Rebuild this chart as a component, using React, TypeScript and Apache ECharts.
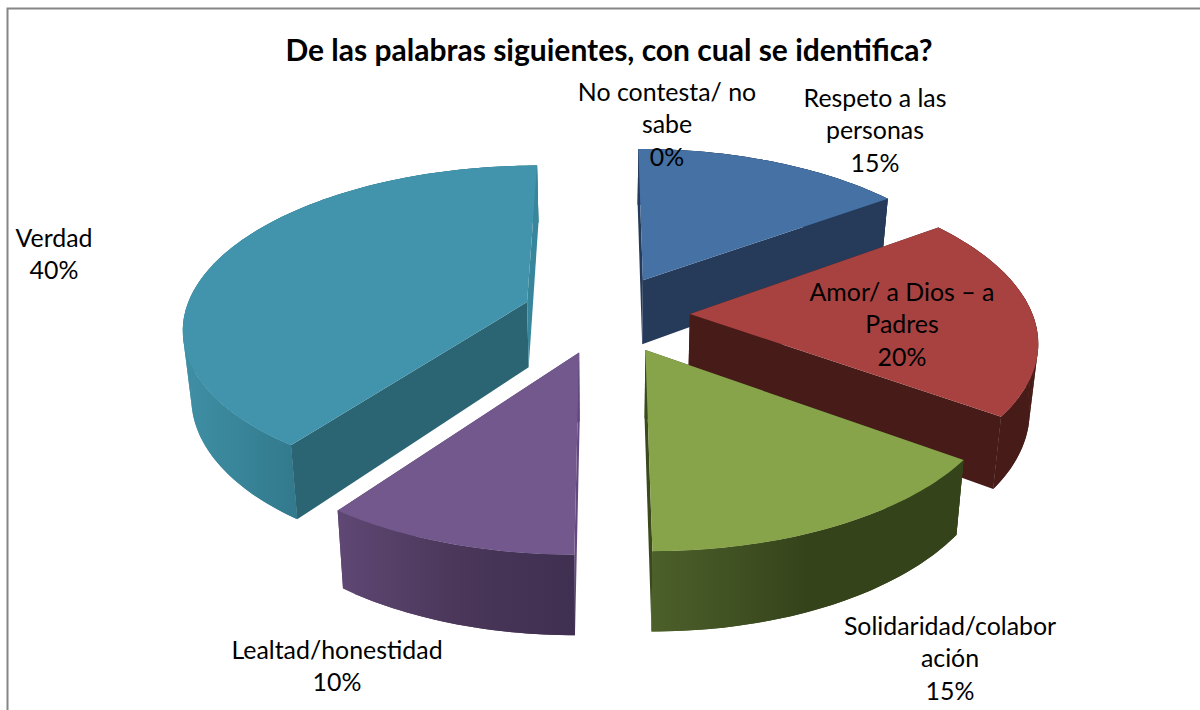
import React, { useEffect, useRef } from "react";
import * as echarts from "echarts";

const TITLE = "De las palabras siguientes, con cual se identifica?";
const names = [
  "Respeto a las\npersonas",
  "Amor/ a Dios – a\nPadres",
  "Solidaridad/colabor\nación",
  "Lealtad/honestidad",
  "Verdad",
  "No contesta/ no\nsabe",
];
const values = [15, 20, 15, 10, 40, 0];

const topColors = ["#4571a5", "#a84241", "#87a44b", "#72588d", "#4194ac", "#4571a5"];
const faceEndColors = ["#253b59", "#471b18", "#3a4a1c", "#4f3b66", "#38869b", "#253b59"];
const faceStartColors = ["#253b59", "#471b18", "#3a4a1c", "#63497f", "#2b6574", "#253b59"];
const wallColors = [
  ["#253b59", "#253b59", "#253b59"],
  ["#471b18", "#471b18", "#471b18"],
  ["#4c602a", "#35431b", "#35431b"],
  ["#5f4874", "#4a3759", "#3f2f50"],
  ["#3f8fa4", "#398599", "#337a8e"],
  ["#253b59", "#253b59", "#253b59"],
];
const labelCenters = [
  [875, 129],
  [902, 323],
  [950, 657],
  [337, 665],
  [54, 253],
  [667, 123],
];

const CX = 606;
const VY = -773;
const D = 1087;
const A = 342.5;
const Q = 0.147;
const EXPLODE = 0.245;
const DEPTH = 66;
const SHRINK = 0.98;
const FONT = "Lato";

const project = (X: number, Y: number) => {
  const s = 1 / (1 + Q * Y);
  return { x: CX + A * X * s, y: VY + D * s, s };
};
const lower = (p: { x: number; y: number; s: number }) => ({
  x: CX + (p.x - CX) * SHRINK,
  y: p.y + DEPTH * p.s,
  s: p.s,
});
const xy = (p: { x: number; y: number }) => [p.x, p.y];
const turn = (o: any, a: any, b: any) => (a.x - o.x) * (b.y - o.y) - (a.y - o.y) * (b.x - o.x);

const total = values.reduce((a, b) => a + b, 0);
let running = 0;
const rows = values.map((v, i) => {
  const start = (running / total) * Math.PI * 2;
  running += v;
  const end = (running / total) * Math.PI * 2;
  return [i, start, end, -Math.cos((start + end) / 2)];
});
const drawOrder = rows.slice().sort((a, b) => a[3] - b[3]);

const renderSlice = (_p: any, api: any) => {
  const i = api.value(0);
  const start = api.value(1);
  const end = api.value(2);
  if (end - start <= 0) return null;
  const mid = (start + end) / 2;
  const ox = EXPLODE * Math.sin(mid);
  const oy = EXPLODE * Math.cos(mid);
  const apex = project(ox, oy);
  const rim: any[] = [];
  const front: number[] = [];
  const steps = Math.ceil((end - start) / 0.02);
  for (let k = 0; k <= steps; k++) {
    const t = start + ((end - start) * k) / steps;
    const p = project(ox + Math.sin(t), oy + Math.cos(t));
    rim.push(p);
    if (Math.cos(t) <= 0.001) front.push(p.x);
  }
  const rimLow = rim.map(lower);
  const apexLow = lower(apex);
  const x0 = front.length ? Math.min(...front) : rim[0].x;
  const x1 = front.length ? Math.max(...front) : rim[rim.length - 1].x;
  const stops = wallColors[i];
  const wallFill = {
    type: "linear",
    x: x0,
    y: 0,
    x2: x1,
    y2: 0,
    global: true,
    colorStops: stops.map((color, n) => ({ offset: n / (stops.length - 1), color })),
  };
  const poly = (points: number[][], fill: any) => ({
    type: "polygon",
    shape: { points },
    style: { fill, stroke: null },
  });
  const first = rim[0];
  const last = rim[rim.length - 1];
  const lowLast = rimLow[rimLow.length - 1];
  const quads: any[] = [];
  for (let k = 0; k + 3 <= steps; k += 3) {
    quads.push(poly([xy(rim[k]), xy(rim[k + 3]), xy(rimLow[k + 3]), xy(rimLow[k])], wallFill));
  }
  const startFace = poly([xy(apex), xy(first), xy(rimLow[0]), xy(apexLow)], faceStartColors[i]);
  const endFace = poly([xy(apex), xy(last), xy(lowLast), xy(apexLow)], faceEndColors[i]);
  const startShown = turn(apex, first, rimLow[0]) < 0;
  const endShown = turn(apex, last, lowLast) > 0;
  return {
    type: "group",
    children: [
      ...(startShown ? [] : [startFace]),
      ...(endShown ? [] : [endFace]),
      poly([...rim.map(xy), ...rimLow.slice().reverse().map(xy)], wallFill),
      ...quads,
      ...(startShown ? [startFace] : []),
      ...(endShown ? [endFace] : []),
      poly([xy(apex), ...rim.map(xy)], topColors[i]),
    ],
  };
};

export default function App() {
  const ref = useRef<HTMLDivElement>(null);
  useEffect(() => {
    const chart = echarts.init(ref.current!, undefined, { renderer: "svg" });
    chart.setOption({
      animation: false,
      backgroundColor: "#ffffff",
      title: {
        text: TITLE,
        left: 604,
        top: 29,
        textAlign: "center",
        textStyle: { fontFamily: FONT, fontWeight: "bold", fontSize: 30, color: "#000000" },
      },
      series: [
        {
          type: "custom",
          coordinateSystem: "none",
          data: drawOrder,
          renderItem: renderSlice,
          silent: true,
        },
      ],
      graphic: [
        {
          type: "polyline",
          z: 1,
          shape: { points: [[7.5, 710], [7.5, 8.5], [1200, 8.5]] },
          style: { stroke: "#868686", lineWidth: 2, fill: null },
        },
        ...names.map((name, i) => ({
          type: "text",
          z: 100,
          x: labelCenters[i][0],
          y: labelCenters[i][1],
          style: {
            text: `${name}\n${values[i]}%`,
            fontFamily: FONT,
            fontSize: 24.9,
            lineHeight: 32.5,
            fill: "#000000",
            align: "center",
            verticalAlign: "middle",
          },
        })),
      ],
    });
    return () => chart.dispose();
  }, []);
  return <div ref={ref} style={{ position: "fixed", left: 0, top: 0, width: 1200, height: 710 }} />;
}
